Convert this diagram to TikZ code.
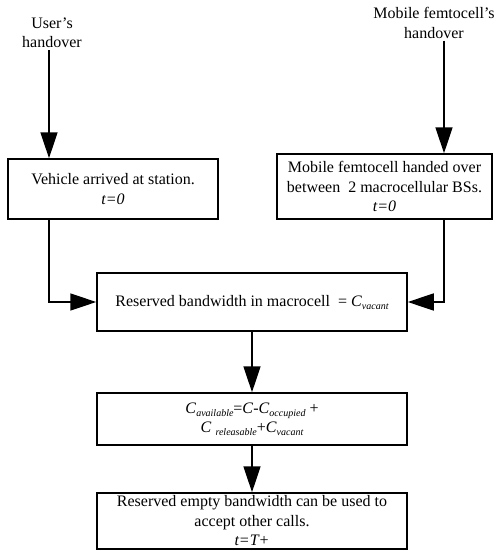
\documentclass[tikz,border=0pt]{standalone}
\usepackage{fontspec}
\setmainfont{Liberation Serif}
\usetikzlibrary{arrows.meta,calc}
\newcommand\lowsub[1]{\raisebox{-3pt}{\fontsize{10}{10}\selectfont\itshape #1}}
\begin{document}
\begin{tikzpicture}[x=1pt,y=-1pt,
  every node/.style={font=\fontsize{16}{19.5}\selectfont, align=center},
  box/.style={draw, line width=1.5pt, inner sep=0pt, anchor=center},
  lab/.style={inner sep=2pt},
  arr/.style={line width=1.5pt, -{Triangle[length=26pt,width=17pt]}}]
\useasboundingbox (0,0) rectangle (495,551);
\node[lab] (ulab) at (52,33) {User’s\\handover};
\node[lab] (mlab) at (434,23) {Mobile femtocell’s\\handover};
\node[box, minimum width=210pt, minimum height=60pt] (lbox) at (113,189)
  {Vehicle arrived at station.\\\textit{t=0}};
\node[box, minimum width=215pt, minimum height=65pt] (rbox) at (384.5,186.5)
  {Mobile femtocell handed over\\between~ 2 macrocellular BSs.\\\textit{t=0}};
\node[box, minimum width=310pt, minimum height=58pt] (mbox) at (252,302)
  {Reserved bandwidth in macrocell~ = \textit{C}\lowsub{vacant}};
\node[box, minimum width=310pt, minimum height=52pt] (cbox) at (252,419)
  {\textit{C}\lowsub{available}=\textit{C}-\textit{C}\lowsub{occupied} +\\
   \textit{C} \lowsub{releasable}+\textit{C}\lowsub{vacant}};
\node[box, minimum width=310pt, minimum height=56pt] (ebox) at (252,521)
  {Reserved empty bandwidth can be used to\\accept other calls.\\\textit{t=T+}};
\coordinate (cl) at (49,0);
\coordinate (cr) at (444,0);
\draw[arr] (ulab.south -| cl) -- (lbox.north -| cl);
\draw[arr] (mlab.south -| cr) -- (rbox.north -| cr);
\draw[arr] (lbox.south -| cl) |- (mbox.west);
\draw[arr] (rbox.south -| cr) |- (mbox.east);
\draw[arr] (mbox.south) -- (cbox.north);
\draw[arr] (cbox.south) -- (ebox.north);
\end{tikzpicture}
\end{document}
